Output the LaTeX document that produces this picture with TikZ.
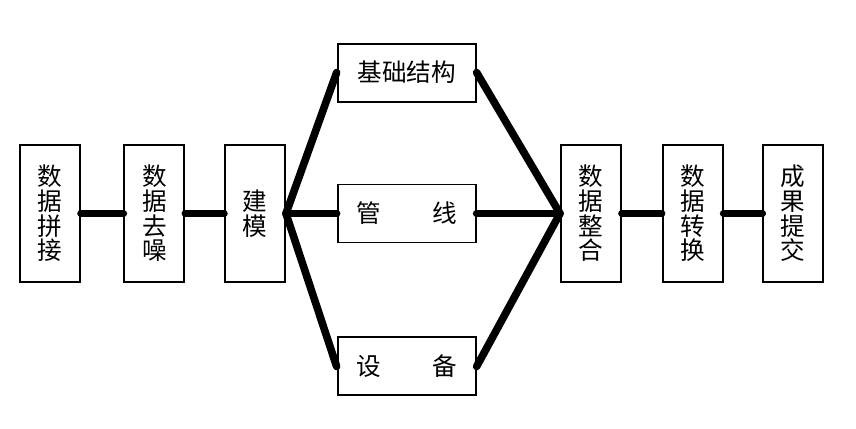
\documentclass[tikz,border=0pt]{standalone}
\usepackage{fontspec}
\newfontfamily\cjk{Noto Sans CJK SC}
\usetikzlibrary{positioning}

\begin{document}
\begin{tikzpicture}[
        every node/.style={font=\cjk\fontsize{21}{21}\selectfont},
        vbox/.style={draw, rectangle, line width=1.7pt, minimum height=4.11cm, minimum width=1.8cm, align=center, inner sep=0pt},
        hbox/.style={draw, rectangle, line width=1.7pt, minimum height=1.74cm, minimum width=4.14cm, align=center, inner sep=0pt},
        link/.style={line width=6.5pt, line cap=round}
    ]

    \useasboundingbox (-1.5,-6.465) rectangle (24.18,6.405);

    \node[vbox] (stitch) {数\\据\\拼\\接};
    \node[vbox, right=1.27cm of stitch] (denoise) {数\\据\\去\\噪};
    \node[vbox, right=1.16cm of denoise] (model) {建\\模};

    \node[hbox, right=1.52cm of model] (pipe) {管\hspace{2.1em}线};
    \node[hbox, above=2.43cm of pipe] (base) {基础结构};
    \node[hbox, below=2.79cm of pipe] (equip) {设\hspace{2.1em}备};

    \node[vbox, right=2.5cm of pipe] (merge) {数\\据\\整\\合};
    \node[vbox, right=1.19cm of merge] (convert) {数\\据\\转\\换};
    \node[vbox, right=1.16cm of convert] (submit) {成\\果\\提\\交};

    \draw[link] (stitch.east) -- (denoise.west);
    \draw[link] (denoise.east) -- (model.west);

    \draw[link] (model.east) -- (base.west);
    \draw[link] (model.east) -- (pipe.west);
    \draw[link] (model.east) -- (equip.west);

    \draw[link] (base.east) -- (merge.west);
    \draw[link] (pipe.east) -- (merge.west);
    \draw[link] (equip.east) -- (merge.west);

    \draw[link] (merge.east) -- (convert.west);
    \draw[link] (convert.east) -- (submit.west);

\end{tikzpicture}
\end{document}
